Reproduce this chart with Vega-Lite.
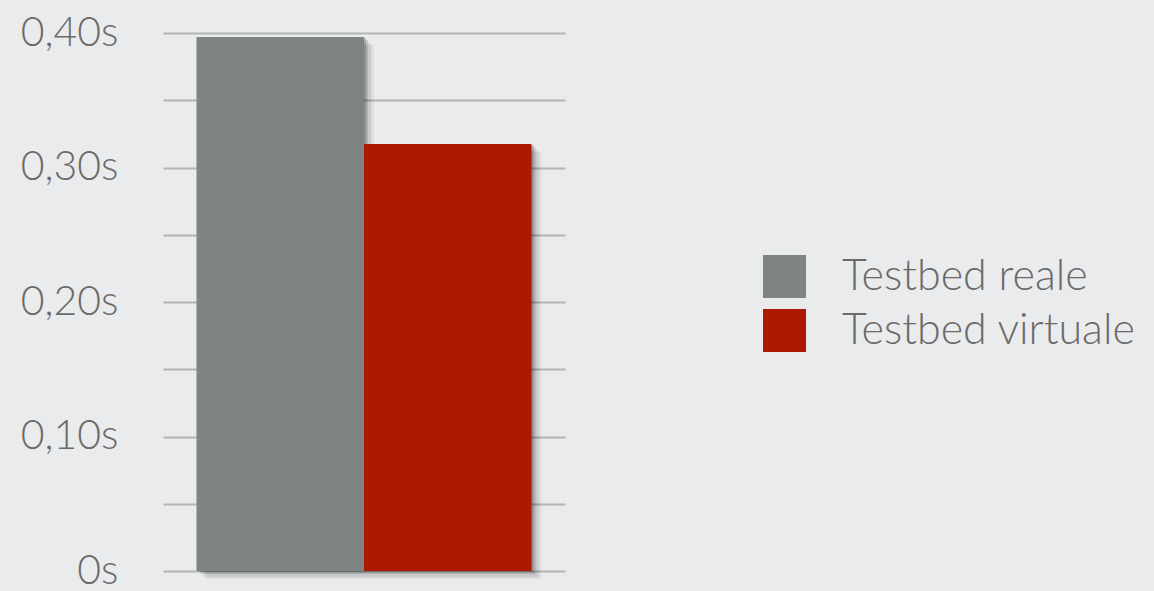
{
  "$schema": "https://vega.github.io/schema/vega-lite/v6.json",
  "autosize": "none",
  "width": 402,
  "height": 538,
  "padding": {"left": 163, "top": 33, "right": 589, "bottom": 20},
  "background": "#eaebed",
  "data": {"values": [
    {"serie": "Testbed reale", "tempo": 0.397},
    {"serie": "Testbed virtuale", "tempo": 0.3175}
  ]},
  "encoding": {
    "x": {"field": "serie", "type": "nominal", "sort": null,
      "scale": {"paddingInner": 0, "paddingOuter": 0.2}, "axis": null},
    "y": {"field": "tempo", "type": "quantitative",
      "scale": {"domain": [0, 0.4], "nice": false},
      "axis": {
        "values": [0, 0.05, 0.1, 0.15, 0.2, 0.25, 0.3, 0.35, 0.4],
        "labelExpr": "round(datum.value*100) % 10 != 0 ? '' : (datum.value == 0 ? '0s' : replace(format(datum.value, '.2f'), '.', ',') + 's')",
        "title": null, "domain": false, "ticks": false,
        "grid": true, "gridColor": "#b3b4b6", "gridWidth": 2,
        "labelFont": "Lato", "labelFontWeight": 300, "labelFontSize": 41,
        "labelColor": "#6a6a6a", "labelPadding": 45, "labelBaseline": "middle"
      }
    }
  },
  "layer": [
    {"mark": {"type": "bar", "color": "#000000", "opacity": 0.06, "xOffset": 10, "yOffset": 8, "y2Offset": 11}},
    {"mark": {"type": "bar", "color": "#000000", "opacity": 0.09, "xOffset": 7, "yOffset": 6, "y2Offset": 8}},
    {"mark": {"type": "bar", "color": "#000000", "opacity": 0.13, "xOffset": 4, "yOffset": 3, "y2Offset": 5}},
    {"mark": {"type": "bar", "color": "#000000", "opacity": 0.18, "xOffset": 2, "yOffset": 1, "y2Offset": 2}},
    {"mark": {"type": "bar"},
      "encoding": {
        "color": {"field": "serie", "type": "nominal",
          "scale": {"domain": ["Testbed reale", "Testbed virtuale"], "range": ["#7e8481", "#aa1900"]},
          "legend": {
            "title": null, "orient": "none", "legendX": 600, "legendY": 222,
            "symbolType": "square", "symbolSize": 1849, "symbolStrokeWidth": 0,
            "symbolOpacity": 1, "labelFont": "Lato", "labelFontWeight": 300,
            "labelFontSize": 43, "labelColor": "#6a6a6a", "labelOffset": 36,
            "rowPadding": 10, "padding": 0, "labelLimit": 400
          }
        }
      }
    }
  ],
  "config": {"view": {"stroke": null}}
}
